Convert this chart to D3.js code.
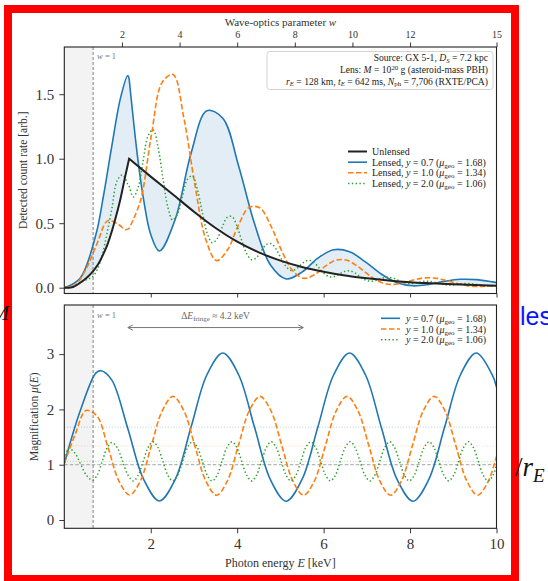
<!DOCTYPE html>
<html><head><meta charset="utf-8">
<script src="https://cdn.jsdelivr.net/npm/d3@7"></script>
<style>
html,body{margin:0;padding:0;background:#fff;}
svg{display:block;}
text{font-family:"Liberation Serif","DejaVu Serif",serif;}
</style></head><body>
<svg id="chart" width="548" height="581"></svg>
<script>
// ---------------- DATA ----------------
// Unlensed spectrum (top panel)
const energyUnlensed = [0,0.1,0.2,0.3,0.4,0.5,0.6,0.7,0.8,0.9,1.0,1.1,1.2,1.3,1.4,1.5,2,2.5,3,3.5,4,4.5,5,5.5,6,6.5,7,7.5,8,8.5,9,9.5,10];
const countUnlensed = [0,0,0.005,0.023,0.046,0.072,0.103,0.142,0.191,0.258,0.336,0.437,0.557,0.69,0.848,1.0,0.861,0.726,0.589,0.463,0.357,0.274,0.21,0.161,0.124,0.095,0.073,0.056,0.043,0.034,0.026,0.02,0.016];

// Lensed count rates (top panel)
const energyBlueCount = [0,0.367,0.733,0.9,1.1,1.3,1.467,1.5,1.7,1.833,2.0,2.2,2.567,2.933,3.3,3.667,4.033,4.4,4.767,5.133,5.5,5.867,6.233,6.6,6.967,7.333,7.7,8.067,8.433,8.8,9.167,9.533,9.9,10];
const countBlue = [0,0.074,0.414,0.70,1.10,1.47,1.645,1.62,1.00,0.687,0.412,0.284,0.531,1.042,1.372,1.314,0.944,0.497,0.178,0.068,0.121,0.229,0.294,0.279,0.200,0.106,0.038,0.0146,0.026,0.0497,0.0649,0.0623,0.0454,0.0395];

const energyOrangeCount = [0,0.252,0.503,0.755,1.007,1.258,1.41,1.5,1.762,2.013,2.265,2.517,2.768,3.02,3.272,3.523,3.775,4.027,4.278,4.53,4.782,5.033,5.285,5.537,5.788,6.04,6.292,6.543,6.795,7.047,7.298,7.55,7.802,8.053,8.305,8.557,8.808,9.06,9.312,9.563,9.815,10];
const countOrange = [0,0.022,0.145,0.34,0.52,0.49,0.45,0.46,0.673,1.179,1.592,1.652,1.313,0.802,0.376,0.210,0.292,0.484,0.623,0.618,0.478,0.284,0.131,0.0726,0.1007,0.1666,0.214,0.212,0.164,0.0978,0.0453,0.0251,0.035,0.0579,0.0749,0.0747,0.0582,0.035,0.0163,0.0091,0.0128,0.0189];

const energyGreenCount = [0,0.1,0.239,0.378,0.516,0.655,0.766,0.878,0.989,1.1,1.224,1.349,1.473,1.5,1.597,
  1.711,1.825,1.939,2.053,2.167,2.281,2.395,2.509,2.623,2.737,2.851,2.965,3.079,3.193,3.307,3.421,3.535,3.649,3.763,3.877,3.991,4.105,4.219,4.334,4.448,4.562,4.676,4.790,4.904,5.018,5.132,5.246,5.360,5.474,5.588,5.702,5.816,5.930,6.044,6.158,6.272,6.386,6.500,6.614,6.728,6.842,6.956,7.070,7.185,7.299,7.413,7.527,7.641,7.755,7.869,7.983,8.097,8.211,8.325,8.439,8.553,8.667,8.781,8.895,9.009,9.123,9.237,9.351,9.465,9.579,9.693,9.807,9.921,10];
const countGreen = [0,0,0.0146,0.041,0.062,0.086,0.143,0.255,0.4225,0.612,0.83,0.875,0.80,0.79,0.704,
  0.780,0.986,1.178,1.226,1.093,0.851,0.626,0.524,
  0.573,0.715,0.842,0.866,0.762,0.584,0.422,0.349,
  0.378,0.466,0.543,0.552,0.482,0.367,0.264,0.217,
  0.234,0.288,0.335,0.341,0.297,0.226,0.163,0.134,
  0.144,0.178,0.207,0.210,0.183,0.140,0.100,0.0825,
  0.089,0.110,0.1275,0.1295,0.113,0.0861,0.0619,0.0509,
  0.0549,0.0678,0.0789,0.0803,0.0701,0.0535,0.0385,0.0317,
  0.0342,0.0423,0.0493,0.0502,0.044,0.0336,0.0243,0.020,
  0.0216,0.0267,0.0313,0.0319,0.028,0.0214,0.0155,0.0128,
  0.0139,0.016];

// Magnification (bottom panel)
const energyBlueMu = [0,0.367,0.733,0.85,1.1,1.467,1.833,2.2,2.567,2.933,3.3,3.667,4.033,4.4,4.767,5.133,5.5,5.867,6.233,6.6,6.967,7.333,7.7,8.067,8.433,8.8,9.167,9.533,9.9,10];
const muBlue = [1.02,1.97,2.66,2.70,2.53,1.66,0.74,0.345,0.734,1.68,2.627,3.02,2.627,1.68,0.733,0.34,0.733,1.68,2.627,3.02,2.627,1.68,0.733,0.34,0.733,1.68,2.627,3.02,2.627,2.405];

const energyOrangeMu = [0,0.252,0.503,0.755,1.007,1.258,1.51,1.762,2.013,2.265,2.517,2.768,3.02,3.272,3.523,3.775,4.027,4.278,4.53,4.782,5.033,5.285,5.537,5.788,6.04,6.292,6.543,6.795,7.047,7.298,7.55,7.802,8.053,8.305,8.557,8.808,9.06,9.312,9.563,9.815,10];
const muOrange = [1.02,1.55,1.98,1.88,1.327,0.716,0.453,0.711,1.342,1.974,2.236,1.974,1.342,0.71,0.448,0.71,1.342,1.974,2.236,1.974,1.342,0.71,0.448,0.71,1.342,1.974,2.236,1.974,1.342,0.71,0.448,0.71,1.342,1.974,2.236,1.974,1.342,0.71,0.448,0.71,1.151];

const energyGreenMu = [0,0.05,0.1,0.239,0.378,0.516,0.655,0.766,0.878,0.989,1.1,1.224,1.349,1.473,1.597,
  1.711,1.825,1.939,2.053,2.167,2.281,2.395,2.509,2.623,2.737,2.851,2.965,3.079,3.193,3.307,3.421,3.535,3.649,3.763,3.877,3.991,4.105,4.219,4.334,4.448,4.562,4.676,4.790,4.904,5.018,5.132,5.246,5.360,5.474,5.588,5.702,5.816,5.930,6.044,6.158,6.272,6.386,6.500,6.614,6.728,6.842,6.956,7.070,7.185,7.299,7.413,7.527,7.641,7.755,7.869,7.983,8.097,8.211,8.325,8.439,8.553,8.667,8.781,8.895,9.009,9.123,9.237,9.351,9.465,9.579,9.693,9.807,9.921,10];
const muGreen = [1.03,1.22,1.30,1.215,1.01,0.805,0.72,0.82,1.06,1.30,1.40,1.31,1.061,0.811,0.707,
  0.811,1.061,1.311,1.415,1.311,1.061,0.811,0.707,
  0.811,1.061,1.311,1.415,1.311,1.061,0.811,0.707,
  0.811,1.061,1.311,1.415,1.311,1.061,0.811,0.707,
  0.811,1.061,1.311,1.415,1.311,1.061,0.811,0.707,
  0.811,1.061,1.311,1.415,1.311,1.061,0.811,0.707,
  0.811,1.061,1.311,1.415,1.311,1.061,0.811,0.707,
  0.811,1.061,1.311,1.415,1.311,1.061,0.811,0.707,
  0.811,1.061,1.311,1.415,1.311,1.061,0.811,0.707,
  0.811,1.061,1.311,1.415,1.311,1.061,0.811,0.707,
  0.811,1.0];

const muGeo = [1.68, 1.34, 1.06];           // geometric-optics magnifications
const impactY = ["0.7", "1.0", "2.0"];
const muGeoLabels = ["1.68", "1.34", "1.06"];
const energyTicks = [2,4,6,8,10];
const wTicks = [2,4,6,8,10,12,15];
const countTicks = [0,0.5,1.0,1.5];
const muTicks = [0,1,2,3];
const wOneEnergy = 2/3;                      // E where w = 1
const fringeArrow = [1.47, 5.53];            // keV extent of the annotation arrow
const fringeArrowMu = 3.48;

// ---------------- LAYOUT ----------------
const C = {blue:"#1f77b4", orange:"#ff7f0e", green:"#2ca02c", black:"#222"};
const svg = d3.select("#chart");
const X0 = 64.3, X1 = 496.5;
const T0 = 47, T1 = 293.5, B0 = 305, B1 = 528.3;
const x  = d3.scaleLinear().domain([0,10]).range([X0,X1]);
const xw = d3.scaleLinear().domain([0,15]).range([X0,X1]);
const yT = d3.scaleLinear().domain([-0.045,1.866]).range([T1,T0]);
const yB = d3.scaleLinear().domain([-0.15,3.888]).range([B1,B0]);

// page fragments around the framed figure
svg.append("rect").attr("x",8).attr("y",9).attr("width",507).attr("height",570)
  .attr("fill","#fff").attr("stroke","#ff0000").attr("stroke-width",8);
svg.append("text").attr("x",9).attr("y",320).attr("text-anchor","end")
  .style("font-style","italic").style("font-size","21px").attr("fill","#111").text("M");
svg.append("text").attr("x",520).attr("y",325)
  .style("font-family","'Liberation Sans',Arial,sans-serif").style("font-size","25px")
  .attr("fill","#0a14ff").text("les");
const rt = svg.append("text").attr("x",515).attr("y",476).style("font-size","27px").attr("fill","#111");
rt.append("tspan").text("/");
rt.append("tspan").style("font-style","italic").text("r");
rt.append("tspan").style("font-style","italic").style("font-size","19px").attr("dy",6).text("E");

// clip paths
const defs = svg.append("defs");
defs.append("clipPath").attr("id","clipT").append("rect").attr("x",X0).attr("y",T0).attr("width",X1-X0).attr("height",T1-T0);
defs.append("clipPath").attr("id","clipB").append("rect").attr("x",X0).attr("y",B0).attr("width",X1-X0).attr("height",B1-B0);

function pairs(E,V,lo,hi){const o=[];const n=Math.min(E.length,V.length);for(let i=0;i<n;i++){if(E[i]>=lo-1e-9&&E[i]<=hi+1e-9)o.push([E[i],V[i]]);}return o;}
const lineT  = d3.line().x(d=>x(d[0])).y(d=>yT(d[1])).curve(d3.curveCatmullRom.alpha(0.5));
const lineTm = d3.line().x(d=>x(d[0])).y(d=>yT(d[1])).curve(d3.curveMonotoneX);
const lineB  = d3.line().x(d=>x(d[0])).y(d=>yB(d[1])).curve(d3.curveCatmullRom.alpha(0.5));
function splitD(gen,E,V,rev){
  let a=pairs(E,V,0,1.5), b=pairs(E,V,1.5,10);
  if(rev){ return gen(b.slice().reverse()) + gen(a.slice().reverse()).replace(/^M/,"L"); }
  return gen(a) + gen(b).replace(/^M/,"L");
}

// ---------------- TOP PANEL ----------------
const gT = svg.append("g");
gT.append("rect").attr("x",X0).attr("y",T0).attr("width",x(wOneEnergy)-X0).attr("height",T1-T0).attr("fill","#f3f3f3");
const gTc = gT.append("g").attr("clip-path","url(#clipT)");
gTc.append("path")
  .attr("d", splitD(lineT,energyBlueCount,countBlue,false) + splitD(lineTm,energyUnlensed,countUnlensed,true).replace(/^M/,"L") + "Z")
  .attr("fill","rgba(31,119,180,0.13)").attr("stroke","none");
gT.append("line").attr("x1",x(wOneEnergy)).attr("x2",x(wOneEnergy)).attr("y1",T0).attr("y2",T1)
  .attr("stroke","#666").attr("stroke-width",0.8).attr("stroke-dasharray","3,2");
gTc.append("path").attr("d",splitD(lineT,energyBlueCount,countBlue,false)).attr("fill","none").attr("stroke",C.blue).attr("stroke-width",1.6);
gTc.append("path").attr("d",splitD(lineT,energyOrangeCount,countOrange,false)).attr("fill","none").attr("stroke",C.orange).attr("stroke-width",1.6).attr("stroke-dasharray","5.5,2.5");
gTc.append("path").attr("d",splitD(lineT,energyGreenCount,countGreen,false)).attr("fill","none").attr("stroke",C.green).attr("stroke-width",1.5).attr("stroke-dasharray","1.4,2.4");
gTc.append("path").attr("d",splitD(lineTm,energyUnlensed,countUnlensed,false)).attr("fill","none").attr("stroke",C.black).attr("stroke-width",2);

// w = 1 label
function wOneLabel(g,y){
  const t=g.append("text").attr("x",x(wOneEnergy)+4).attr("y",y).style("font-size","8.5px").attr("fill","#777");
  t.append("tspan").style("font-style","italic").text("w");
  t.append("tspan").text(" = 1");
}
wOneLabel(gT,T0+12);

// info box
gT.append("rect").attr("x",267).attr("y",51.5).attr("width",226).attr("height",38).attr("rx",3)
  .attr("fill","#fff").attr("fill-opacity",0.85).attr("stroke","#c8c8c8").attr("stroke-width",0.8);
{
  const fs="9.6px", xr=488;
  let t=gT.append("text").attr("x",xr).attr("y",61).attr("text-anchor","end").style("font-size",fs).attr("fill","#222");
  t.append("tspan").text("Source: GX 5-1, ");
  t.append("tspan").style("font-style","italic").text("D");
  t.append("tspan").style("font-style","italic").style("font-size","6.8px").attr("dy",1.6).text("S");
  t.append("tspan").attr("dy",-1.6).text(" = 7.2 kpc");
  t=gT.append("text").attr("x",xr).attr("y",73).attr("text-anchor","end").style("font-size",fs).attr("fill","#222");
  t.append("tspan").text("Lens: ");
  t.append("tspan").style("font-style","italic").text("M");
  t.append("tspan").text(" = 10");
  t.append("tspan").style("font-size","6.8px").attr("dy",-3).text("20");
  t.append("tspan").attr("dy",3).text(" g (asteroid-mass PBH)");
  t=gT.append("text").attr("x",xr).attr("y",84.5).attr("text-anchor","end").style("font-size",fs).attr("fill","#222");
  t.append("tspan").style("font-style","italic").text("r");
  t.append("tspan").style("font-style","italic").style("font-size","6.8px").attr("dy",1.6).text("E");
  t.append("tspan").attr("dy",-1.6).text(" = 128 km, ");
  t.append("tspan").style("font-style","italic").text("t");
  t.append("tspan").style("font-style","italic").style("font-size","6.8px").attr("dy",1.6).text("E");
  t.append("tspan").attr("dy",-1.6).text(" = 642 ms, ");
  t.append("tspan").style("font-style","italic").text("N");
  t.append("tspan").style("font-size","6.8px").attr("dy",1.6).text("ph");
  t.append("tspan").attr("dy",-1.6).text(" = 7,706 (RXTE/PCA)");
}

// top legend
{
  const rows=[151.5,162.2,172.8,183.4];
  const styles=[{c:C.black,w:2,d:null},{c:C.blue,w:1.6,d:null},{c:C.orange,w:1.6,d:"5.5,2.5"},{c:C.green,w:1.5,d:"1.4,2.4"}];
  rows.forEach((ry,i)=>{
    const s=styles[i];
    gT.append("line").attr("x1",348).attr("x2",367).attr("y1",ry).attr("y2",ry).attr("stroke",s.c).attr("stroke-width",s.w).attr("stroke-dasharray",s.d);
    const t=gT.append("text").attr("x",372).attr("y",ry+3.5).style("font-size","10px").attr("fill","#222");
    if(i===0){t.text("Unlensed");return;}
    t.append("tspan").text("Lensed, ");
    t.append("tspan").style("font-style","italic").text("y");
    t.append("tspan").text(" = "+impactY[i-1]+" (");
    t.append("tspan").style("font-style","italic").text("μ");
    t.append("tspan").style("font-size","7px").attr("dy",2).text("geo");
    t.append("tspan").attr("dy",-2).text(" = "+muGeoLabels[i-1]+")");
  });
}

// top axes
function styleAxis(g,fs){
  g.select(".domain").remove();
  g.selectAll(".tick line").attr("stroke","#222").attr("stroke-width",0.9);
  g.selectAll(".tick text").attr("fill","#333").style("font-family","'Liberation Serif','DejaVu Serif',serif").style("font-size",fs);
}
styleAxis(gT.append("g").attr("transform",`translate(${X0},0)`)
  .call(d3.axisLeft(yT).tickValues(countTicks).tickFormat(d3.format(".1f")).tickSize(5).tickPadding(5)),"15px");
styleAxis(gT.append("g").attr("transform",`translate(0,${T1})`)
  .call(d3.axisBottom(x).tickValues(energyTicks).tickFormat("").tickSize(4)),"15px");
styleAxis(gT.append("g").attr("transform",`translate(0,${T0})`)
  .call(d3.axisTop(xw).tickValues(wTicks).tickFormat(d3.format("d")).tickSize(4.5).tickPadding(4.5)),"10px");
gT.append("rect").attr("x",X0).attr("y",T0).attr("width",X1-X0).attr("height",T1-T0).attr("fill","none").attr("stroke","#222").attr("stroke-width",1.1);
{
  const t=gT.append("text").attr("x",(X0+X1)/2).attr("y",26).attr("text-anchor","middle").style("font-size","11px").attr("fill","#333");
  t.append("tspan").text("Wave-optics parameter ");
  t.append("tspan").style("font-style","italic").text("w");
  gT.append("text").attr("transform",`translate(27,${(T0+T1)/2}) rotate(-90)`).attr("text-anchor","middle")
    .style("font-size","11.5px").attr("fill","#333").text("Detected count rate [arb.]");
}

// ---------------- BOTTOM PANEL ----------------
const gB = svg.append("g");
gB.append("rect").attr("x",X0).attr("y",B0).attr("width",x(wOneEnergy)-X0).attr("height",B1-B0).attr("fill","#f3f3f3");
const gBc = gB.append("g").attr("clip-path","url(#clipB)");
const refCols=["rgba(31,119,180,0.4)","rgba(255,127,14,0.35)","rgba(44,160,44,0.4)"];
muGeo.forEach((m,i)=>{
  gBc.append("line").attr("x1",X0).attr("x2",X1).attr("y1",yB(m)).attr("y2",yB(m)).attr("stroke",refCols[i]).attr("stroke-width",0.9).attr("stroke-dasharray","1,1.8");
});
gBc.append("line").attr("x1",X0).attr("x2",X1).attr("y1",yB(1)).attr("y2",yB(1)).attr("stroke","#999").attr("stroke-width",0.9).attr("stroke-dasharray","3.5,2");
gB.append("line").attr("x1",x(wOneEnergy)).attr("x2",x(wOneEnergy)).attr("y1",B0).attr("y2",B1)
  .attr("stroke","#666").attr("stroke-width",0.8).attr("stroke-dasharray","3,2");
gBc.append("path").datum(pairs(energyBlueMu,muBlue,0,10)).attr("d",lineB).attr("fill","none").attr("stroke",C.blue).attr("stroke-width",1.6);
gBc.append("path").datum(pairs(energyOrangeMu,muOrange,0,10)).attr("d",lineB).attr("fill","none").attr("stroke",C.orange).attr("stroke-width",1.6).attr("stroke-dasharray","5.5,2.5");
gBc.append("path").datum(pairs(energyGreenMu,muGreen,0,10)).attr("d",lineB).attr("fill","none").attr("stroke",C.green).attr("stroke-width",1.5).attr("stroke-dasharray","1.4,2.4");
wOneLabel(gB,B0+13);

// fringe annotation
{
  const ya=yB(fringeArrowMu), xa=x(fringeArrow[0]), xb=x(fringeArrow[1]);
  gB.append("line").attr("x1",xa).attr("x2",xb).attr("y1",ya).attr("y2",ya).attr("stroke","#777").attr("stroke-width",1);
  gB.append("path").attr("d",`M${xa+5},${ya-2.6}L${xa},${ya}L${xa+5},${ya+2.6}M${xb-5},${ya-2.6}L${xb},${ya}L${xb-5},${ya+2.6}`)
    .attr("fill","none").attr("stroke","#777").attr("stroke-width",1);
  const t=gB.append("text").attr("x",(xa+xb)/2).attr("y",ya-9).attr("text-anchor","middle").style("font-size","9.5px").attr("fill","#666");
  t.append("tspan").text("Δ");
  t.append("tspan").style("font-style","italic").text("E");
  t.append("tspan").style("font-size","7px").attr("dy",2).text("fringe");
  t.append("tspan").attr("dy",-2).text(" ≈ 4.2 keV");
}

// bottom legend
{
  const rows=[318.3,329,339.7];
  const styles=[{c:C.blue,w:1.6,d:null},{c:C.orange,w:1.6,d:"5.5,2.5"},{c:C.green,w:1.5,d:"1.4,2.4"}];
  rows.forEach((ry,i)=>{
    const s=styles[i];
    gB.append("line").attr("x1",381).attr("x2",400).attr("y1",ry).attr("y2",ry).attr("stroke",s.c).attr("stroke-width",s.w).attr("stroke-dasharray",s.d);
    const t=gB.append("text").attr("x",406).attr("y",ry+3.5).style("font-size","10px").attr("fill","#222");
    t.append("tspan").style("font-style","italic").text("y");
    t.append("tspan").text(" = "+impactY[i]+" (");
    t.append("tspan").style("font-style","italic").text("μ");
    t.append("tspan").style("font-size","7px").attr("dy",2).text("geo");
    t.append("tspan").attr("dy",-2).text(" = "+muGeoLabels[i]+")");
  });
}

// bottom axes
styleAxis(gB.append("g").attr("transform",`translate(${X0},0)`)
  .call(d3.axisLeft(yB).tickValues(muTicks).tickFormat(d3.format("d")).tickSize(5).tickPadding(5)),"15px");
styleAxis(gB.append("g").attr("transform",`translate(0,${B1})`)
  .call(d3.axisBottom(x).tickValues(energyTicks).tickFormat(d3.format("d")).tickSize(5).tickPadding(5)),"15px");
gB.append("rect").attr("x",X0).attr("y",B0).attr("width",X1-X0).attr("height",B1-B0).attr("fill","none").attr("stroke","#222").attr("stroke-width",1.1);
{
  const t=gB.append("text").attr("x",(X0+X1)/2).attr("y",567).attr("text-anchor","middle").style("font-size","12px").attr("fill","#333");
  t.append("tspan").text("Photon energy ");
  t.append("tspan").style("font-style","italic").text("E");
  t.append("tspan").text(" [keV]");
  const t2=gB.append("text").attr("transform",`translate(38,${(B0+B1)/2}) rotate(-90)`).attr("text-anchor","middle").style("font-size","11.5px").attr("fill","#333");
  t2.append("tspan").text("Magnification ");
  t2.append("tspan").style("font-style","italic").text("μ");
  t2.append("tspan").text("(");
  t2.append("tspan").style("font-style","italic").text("E");
  t2.append("tspan").text(")");
}
</script></body></html>
